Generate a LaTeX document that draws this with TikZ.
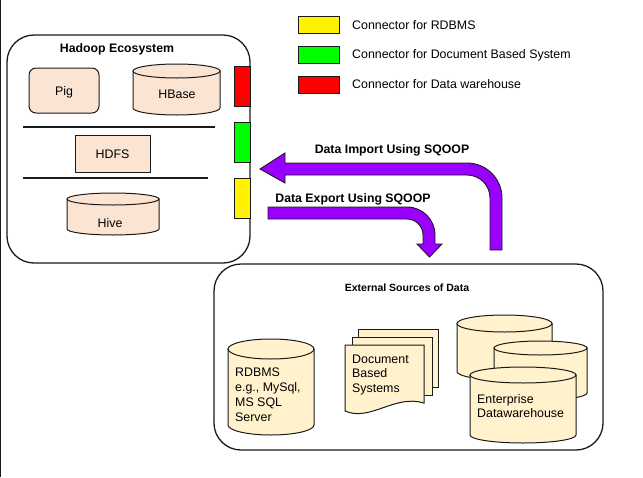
\documentclass[tikz,border=0pt]{standalone}
\usepackage{fontspec}
\setmainfont{Liberation Sans}
\definecolor{peachc}{HTML}{FCE4D2}
\definecolor{creamc}{HTML}{FFF2CC}
\definecolor{purplec}{HTML}{9900FF}
\definecolor{edgec}{HTML}{1A1A1A}
\newcommand\drawcyl[6]{% #1 style, #2 x1, #3 x2, #4 ytop, #5 ybot, #6 ry
  \pgfmathsetmacro\cylrx{(#3-#2)/2}%
  \pgfmathsetmacro\cylcx{(#3+#2)/2}%
  \path[#1] (#2,#4+#6) -- (#2,#5-#6) arc[start angle=180,end angle=360,x radius=\cylrx pt,y radius=#6pt] -- (#3,#4+#6) -- cycle;
  \path[#1] (\cylcx,#4+#6) ellipse [x radius=\cylrx pt, y radius=#6pt];
}
\begin{document}
\begin{tikzpicture}[x=1pt,y=-1pt,
  every node/.style={font=\fontsize{12.4}{15}\selectfont, inner sep=0pt},
  bigbox/.style={draw=edgec, line width=1.3pt, rounded corners=27pt},
  peachshape/.style={fill=peachc, draw=edgec, line width=1pt},
  creamshape/.style={fill=creamc, draw=edgec, line width=1pt},
  conn/.style={draw=edgec, line width=1pt, minimum width=16pt, minimum height=40pt},
  legbox/.style={draw=edgec, line width=1pt, minimum width=41pt, minimum height=17pt},
  sep/.style={draw=edgec, line width=1.1pt},
  blockarrow/.style={fill=purplec, draw=edgec, line width=0.9pt, line join=miter},
  title/.style={font=\fontsize{12.3}{15}\bfseries\selectfont},
  boxtext/.style={text height=9pt, text depth=0pt}
]
\useasboundingbox (0,0) rectangle (643,477);
\draw[line width=1.2pt, edgec] (0.6,0) -- (0.6,477);

% Hadoop ecosystem
\node[bigbox, minimum width=243pt, minimum height=228pt] (hadoop) at (128.5,149) {};
\node[title, anchor=base] (hadooptitle) at (117,52.5) {Hadoop Ecosystem};
\node[peachshape, rounded corners=7pt, minimum width=70pt, minimum height=45pt, boxtext] (pig) at (64,90.5) {Pig};
\drawcyl{peachshape}{133}{220}{64}{115}{7}
\node[anchor=base] (hbase) at (177,98.5) {HBase};
\draw[sep] (23,127) coordinate (s1a) -- (215,127) coordinate (s1b);
\node[peachshape, minimum width=75pt, minimum height=37pt, boxtext] (hdfs) at (112.5,153.5) {HDFS};
\draw[sep] (23,178) coordinate (s2a) -- (208,178) coordinate (s2b);
\drawcyl{peachshape}{67}{159}{193}{235}{6}
\node[anchor=base] (hive) at (110,227.5) {Hive};

% connectors
\node[conn, fill=red] (cred) at (242,86) {};
\node[conn, fill=green] (cgreen) at (242,142) {};
\node[conn, fill=yellow] (cyellow) at (242,198.5) {};

% legend
\node[legbox, fill=yellow] (lyellow) at (318.5,24.5) {};
\node[legbox, fill=green] (lgreen) at (318.5,54.5) {};
\node[legbox, fill=red] (lred) at (318.5,84.5) {};
\node[anchor=base west] (tyellow) at (352,29.5) {Connector for RDBMS};
\node[anchor=base west] (tgreen) at (352,58.5) {Connector for Document Based System};
\node[anchor=base west] (tred) at (352,88.5) {Connector for Data warehouse};

% external sources
\node[bigbox, minimum width=389pt, minimum height=186pt] (ext) at (408.5,357) {};
\node[anchor=base, font=\fontsize{10.5}{13}\bfseries\selectfont] (exttitle) at (407,291.8) {External Sources of Data};

\drawcyl{creamshape}{228}{314}{339}{435}{10}
\node[anchor=north west, align=left, font=\fontsize{12.4}{15}\selectfont] (rdbms) at (235,367.5) {RDBMS\\e.g., MySql,\\MS SQL\\Server};

\path[creamshape] (358,329) rectangle (438,387);
\path[creamshape] (352,337) rectangle (432,395);
\path[creamshape] (345,345) -- (424,345) -- (424,403) .. controls (395,394) and (370,422) .. (345,411) -- cycle;
\node[anchor=north west, align=left, font=\fontsize{12.4}{14.5}\selectfont] (docs) at (352,354.5) {Document\\Based\\Systems};

\drawcyl{creamshape}{457}{552}{315}{380}{8.5}
\drawcyl{creamshape}{494}{587}{341}{400}{7}
\drawcyl{creamshape}{470}{576}{367}{443}{8}
\node[anchor=north west, align=left, font=\fontsize{12.4}{14}\selectfont] (edw) at (477,394.5) {Enterprise\\Datawarehouse};

% SQOOP arrows
\path[blockarrow] (260,169) coordinate (imptip) -- (285,153) -- (285,163) -- (467,163) arc[start angle=90,end angle=0,radius=35pt] -- (502,250) -- (490,250) -- (490,198) arc[start angle=0,end angle=90,radius=23pt] -- (285,175) -- (285,183) -- cycle;
\node[title, anchor=base] (implabel) at (392,153.5) {Data Import Using SQOOP};

\path[blockarrow] (268,207) -- (407,207) arc[start angle=90,end angle=0,radius=28pt] -- (435,244) -- (442,244) -- (429.5,257) coordinate (exptip) -- (417,244) -- (423,244) -- (423,235) arc[start angle=0,end angle=90,radius=16pt] -- (268,219) -- cycle;
\node[title, anchor=base] (explabel) at (353,202.5) {Data Export Using SQOOP};
\end{tikzpicture}
\end{document}
